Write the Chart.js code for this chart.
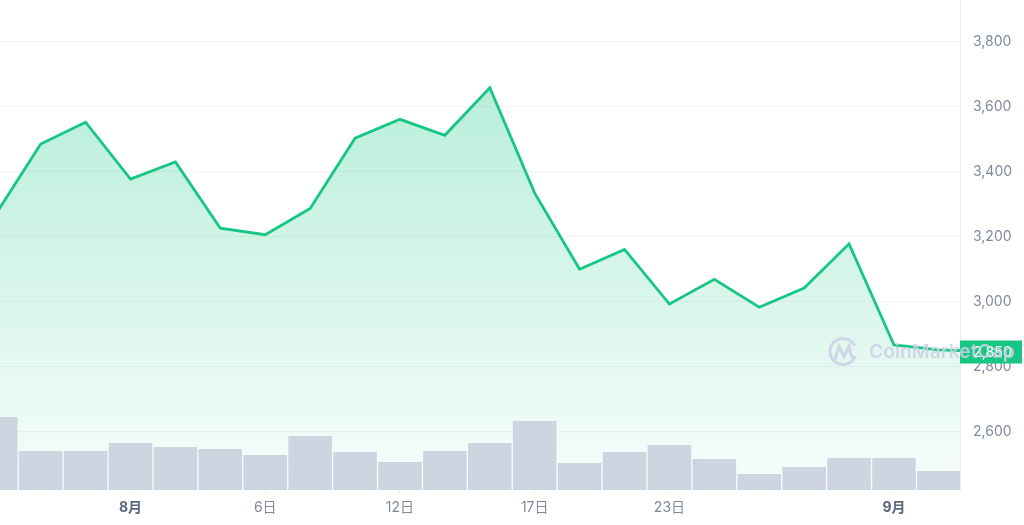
<!DOCTYPE html>
<html>
<head>
<meta charset="utf-8">
<script src="https://cdn.jsdelivr.net/npm/chart.js@4.4.1/dist/chart.umd.min.js"></script>
<style>
  html, body { margin: 0; padding: 0; background: #fff; }
  #wrap { width: 1024px; height: 525px; position: relative; }
</style>
</head>
<body>
<div id="wrap"><canvas id="chart"></canvas></div>
<script>
// one entry per day, index 0 is the partly hidden day on the left edge
const dayIndex = [0, 1, 2, 3, 4, 5, 6, 7, 8, 9, 10, 11, 12, 13, 14, 15, 16, 17, 18, 19, 20, 21];
const prices = [3269, 3485, 3552, 3377, 3430, 3226, 3206, 3287, 3503, 3561, 3512, 3658,
                3334, 3100, 3161, 2993, 3069, 2983, 3042, 3178, 2867, 2852];
// volume in billions USD
const volumes = [36.5, 19.5, 19.5, 23.5, 21.5, 20.5, 17.5, 27, 19, 14, 19.5, 23.5,
                 34.5, 13.5, 19, 22.5, 15.5, 8, 11.5, 16, 16, 9.5];
const nowIndex = 21.47;
const nowPrice = 2850;

const tickIndex = [3, 6, 9, 12, 15, 20];
const tickLabels = ['8月', '6日', '12日', '17日', '23日', '9月'];

const green = '#16c784';
const font = "Inter, 'Noto Sans CJK JP', sans-serif";

function isMonth(c) {
    if (!c || !c.tick) return false;
    const label = tickLabels[tickIndex.indexOf(c.tick.value)] || '';
    return label.includes('月');
}

const priceTag = {
    id: 'priceTag',
    afterDraw(chart) {
        const c = chart.ctx;
        const y = chart.scales.y.getPixelForValue(nowPrice);
        const left = chart.chartArea.right;

        c.save();
        c.fillStyle = green;
        c.fillRect(left, y - 10, 62, 23);
        c.fillStyle = '#fff';
        c.font = `500 14px ${font}`;
        c.textBaseline = 'middle';
        c.fillText(nowPrice.toLocaleString('en-US'), left + 13, y + 2);

        // watermark
        const mark = 'rgba(204,208,228,0.85)';
        c.strokeStyle = mark;
        c.lineWidth = 3;
        c.beginPath();
        c.arc(843, y + 1, 13, 0.2 * Math.PI, 1.85 * Math.PI);
        c.stroke();
        c.beginPath();
        c.moveTo(835, y + 9);
        c.lineTo(839, y - 4);
        c.lineTo(844, y + 6);
        c.lineTo(849, y - 4);
        c.lineTo(851, y + 5);
        c.lineTo(856, y + 8);
        c.stroke();
        c.fillStyle = mark;
        c.font = `600 22px ${font}`;
        const w = c.measureText('CoinMarketCap').width;
        const size = 22 * 146 / w;
        c.font = `600 ${size}px ${font}`;
        c.fillText('CoinMarketCap', 869, y + 2);
        c.restore();
    }
};

const ctx = document.getElementById('chart').getContext('2d');
new Chart(ctx, {
    data: {
        datasets: [
            {
                type: 'line',
                data: dayIndex.map((d, i) => ({ x: d, y: prices[i] })).concat([{ x: nowIndex, y: nowPrice }]),
                borderColor: green,
                borderWidth: 2.8,
                pointRadius: 0,
                tension: 0,
                fill: 'start',
                backgroundColor: (context) => {
                    const { chart } = context;
                    const area = chart.chartArea;
                    if (!area) return 'rgba(22,199,132,0.2)';
                    const g = chart.ctx.createLinearGradient(0, area.top, 0, area.bottom);
                    g.addColorStop(0, 'rgba(22,199,132,0.36)');
                    g.addColorStop(1, 'rgba(22,199,132,0.03)');
                    return g;
                },
                yAxisID: 'y',
                order: 2
            },
            {
                type: 'bar',
                data: dayIndex.map((d, i) => ({ x: d, y: volumes[i] })),
                backgroundColor: '#cdd5e1',
                barPercentage: 0.97,
                categoryPercentage: 1,
                yAxisID: 'yVol',
                order: 1
            }
        ]
    },
    options: {
        responsive: true,
        maintainAspectRatio: false,
        animation: false,
        layout: { padding: 0 },
        plugins: {
            legend: { display: false },
            tooltip: { enabled: false }
        },
        scales: {
            x: {
                type: 'linear',
                offset: false,
                min: 0.094,
                max: nowIndex,
                afterBuildTicks: (axis) => {
                    axis.ticks = tickIndex.map(v => ({ value: v }));
                },
                afterFit: (axis) => {
                    axis.height = 35;
                    axis.paddingLeft = 0;
                    axis.paddingRight = 0;
                },
                grid: { offset: false, drawOnChartArea: false, drawTicks: true, tickLength: 4, color: '#eef0f3' },
                border: { display: false },
                ticks: {
                    padding: 5,
                    maxRotation: 0,
                    autoSkip: false,
                    callback: (v) => tickLabels[tickIndex.indexOf(v)],
                    color: (c) => isMonth(c) ? '#58667e' : '#808a9d',
                    font: (c) => ({
                        family: font,
                        size: 14,
                        weight: isMonth(c) ? '700' : '400'
                    })
                }
            },
            y: {
                position: 'right',
                min: 2421,
                max: 3928,
                afterFit: (axis) => {
                    axis.width = 64;
                    axis.paddingTop = 0;
                    axis.paddingBottom = 0;
                },
                grid: { color: '#f3f4f6', drawTicks: false },
                border: { color: '#eff0f2' },
                ticks: {
                    stepSize: 200,
                    includeBounds: false,
                    padding: 13,
                    color: '#808a9d',
                    font: { family: font, size: 14 },
                    callback: (v) => v.toLocaleString('en-US')
                }
            },
            yVol: {
                display: false,
                min: 0,
                max: 245
            }
        }
    },
    plugins: [priceTag]
});
</script>
</body>
</html>
